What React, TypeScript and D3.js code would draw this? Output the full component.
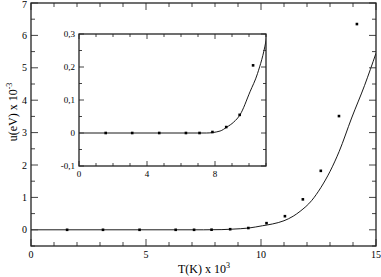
import React from 'react';
import * as d3 from 'd3';

// simulation points, T in 10^3 K, u in 10^-3 eV
const pointT = [1.57, 3.13, 4.72, 6.29, 7.09, 7.85, 8.66, 9.45, 10.24, 11.04, 11.82, 12.6, 13.39, 14.17];
const pointU = [0, 0, 0, 0, 0, 0.003, 0.018, 0.055, 0.205, 0.42, 0.94, 1.82, 3.51, 6.35];

// fitted curve
const curveT = [0, 7.5, 8.3, 8.7, 9.1, 9.47, 10.06, 10.5, 11.0, 11.4, 11.7, 12.2, 12.6, 13.0, 13.4, 13.94, 14.5, 15];
const curveU = [0, 0, 0.006, 0.018, 0.033, 0.055, 0.125, 0.18, 0.28, 0.42, 0.57, 0.9, 1.3, 1.8, 2.42, 3.45, 4.45, 5.45];

const mainXTicks = [0, 5, 10, 15];
const mainYTicks = [0, 1, 2, 3, 4, 5, 6, 7];
const insetXTicks = [0, 4, 8];
const insetYTicks = [-0.1, 0, 0.1, 0.2, 0.3];
const insetYLabels = ['-0,1', '0', '0,1', '0,2', '0,3'];

const W = 381;
const H = 277;
const font = '"Liberation Serif", "DejaVu Serif", serif';

const pts = pointT.map((t, i) => ({ t, u: pointU[i] }));
const crv = curveT.map((t, i) => ({ t, u: curveU[i] }));

type Box = { x0: number; x1: number; y0: number; y1: number };

function Panel({ box, xd, yd, xMajor, xMinor, yMajor, yMinor, xLabels, yLabels, major, minor, fs, clipId, data, lineData }: any) {
  const x = d3.scaleLinear().domain(xd).range([box.x0, box.x1]);
  const y = d3.scaleLinear().domain(yd).range([box.y1, box.y0]);
  const line = d3.line<any>()
    .x(d => x(d.t))
    .y(d => y(d.u))
    .curve(d3.curveMonotoneX);
  const minorX = d3.range(xd[0], xd[1] + 1e-9, xMinor);
  const minorY = d3.range(yd[0], yd[1] + 1e-9, yMinor);
  return (
    <g>
      <clipPath id={clipId}>
        <rect x={box.x0} y={box.y0} width={box.x1 - box.x0} height={box.y1 - box.y0} />
      </clipPath>
      <rect x={box.x0} y={box.y0} width={box.x1 - box.x0} height={box.y1 - box.y0} fill="#fff" stroke="none" />
      <path d={line(lineData) || ''} fill="none" stroke="#000" strokeWidth={0.9} clipPath={`url(#${clipId})`} />
      {data.map((d: any, i: number) => (
        <rect key={i} x={x(d.t) - 1.3} y={y(d.u) - 1.3} width={2.6} height={2.6} fill="#000" />
      ))}
      {/* ticks, inward on all four sides */}
      {minorX.map((v: number, i: number) => {
        const len = xMajor.some((m: number) => Math.abs(m - v) < 1e-6) ? major : minor;
        return (
          <g key={'tx' + i} stroke="#444" strokeWidth={1}>
            <line x1={x(v)} x2={x(v)} y1={box.y1} y2={box.y1 - len} />
            <line x1={x(v)} x2={x(v)} y1={box.y0} y2={box.y0 + len} />
          </g>
        );
      })}
      {minorY.map((v: number, i: number) => {
        const len = yMajor.some((m: number) => Math.abs(m - v) < 1e-6) ? major : minor;
        return (
          <g key={'ty' + i} stroke="#444" strokeWidth={1}>
            <line x1={box.x0} x2={box.x0 + len} y1={y(v)} y2={y(v)} />
            <line x1={box.x1} x2={box.x1 - len} y1={y(v)} y2={y(v)} />
          </g>
        );
      })}
      <rect x={box.x0} y={box.y0} width={box.x1 - box.x0} height={box.y1 - box.y0} fill="none" stroke="#222" strokeWidth={1.3} />
      {xMajor.map((v: number, i: number) => (
        <text key={'lx' + i} x={x(v)} y={box.y1 + fs + 2} textAnchor="middle" fontSize={fs} fontFamily={font}>{xLabels[i]}</text>
      ))}
      {yMajor.map((v: number, i: number) => (
        <text key={'ly' + i} x={box.x0 - 4} y={Math.max(y(v) + fs * 0.35, fs * 0.8)} textAnchor="end" fontSize={fs} fontFamily={font}>{yLabels[i]}</text>
      ))}
    </g>
  );
}

export default function App() {
  const mainBox: Box = { x0: 31, x1: 376, y0: 3, y1: 246 };
  const insetBox: Box = { x0: 79, x1: 266, y0: 34, y1: 166 };
  return (
    <svg width={W} height={H} style={{ position: 'absolute', left: 0, top: 0, background: '#fff' }}>
      <Panel box={mainBox} xd={[0, 15]} yd={[-0.5, 7]} xMajor={mainXTicks} xMinor={1}
        yMajor={mainYTicks} yMinor={0.5} xLabels={mainXTicks.map(String)} yLabels={mainYTicks.map(String)}
        major={7} minor={4} fs={10} clipId="clipMain" data={pts} lineData={crv} />
      <Panel box={insetBox} xd={[0, 11]} yd={[-0.1, 0.3]} xMajor={insetXTicks} xMinor={1}
        yMajor={insetYTicks} yMinor={0.05} xLabels={insetXTicks.map(String)} yLabels={insetYLabels}
        major={5} minor={3} fs={9} clipId="clipInset" data={pts.filter(d => d.t < 11)} lineData={crv} />
      <text x={204} y={273} textAnchor="middle" fontSize={12} fontFamily={font}>
        T(K) x 10<tspan dy={-5} fontSize={8}>3</tspan>
      </text>
      <text transform="translate(17,112) rotate(-90)" textAnchor="middle" fontSize={12} fontFamily={font}>
        u(eV) x 10<tspan dy={-5} fontSize={8}>-3</tspan>
      </text>
    </svg>
  );
}
